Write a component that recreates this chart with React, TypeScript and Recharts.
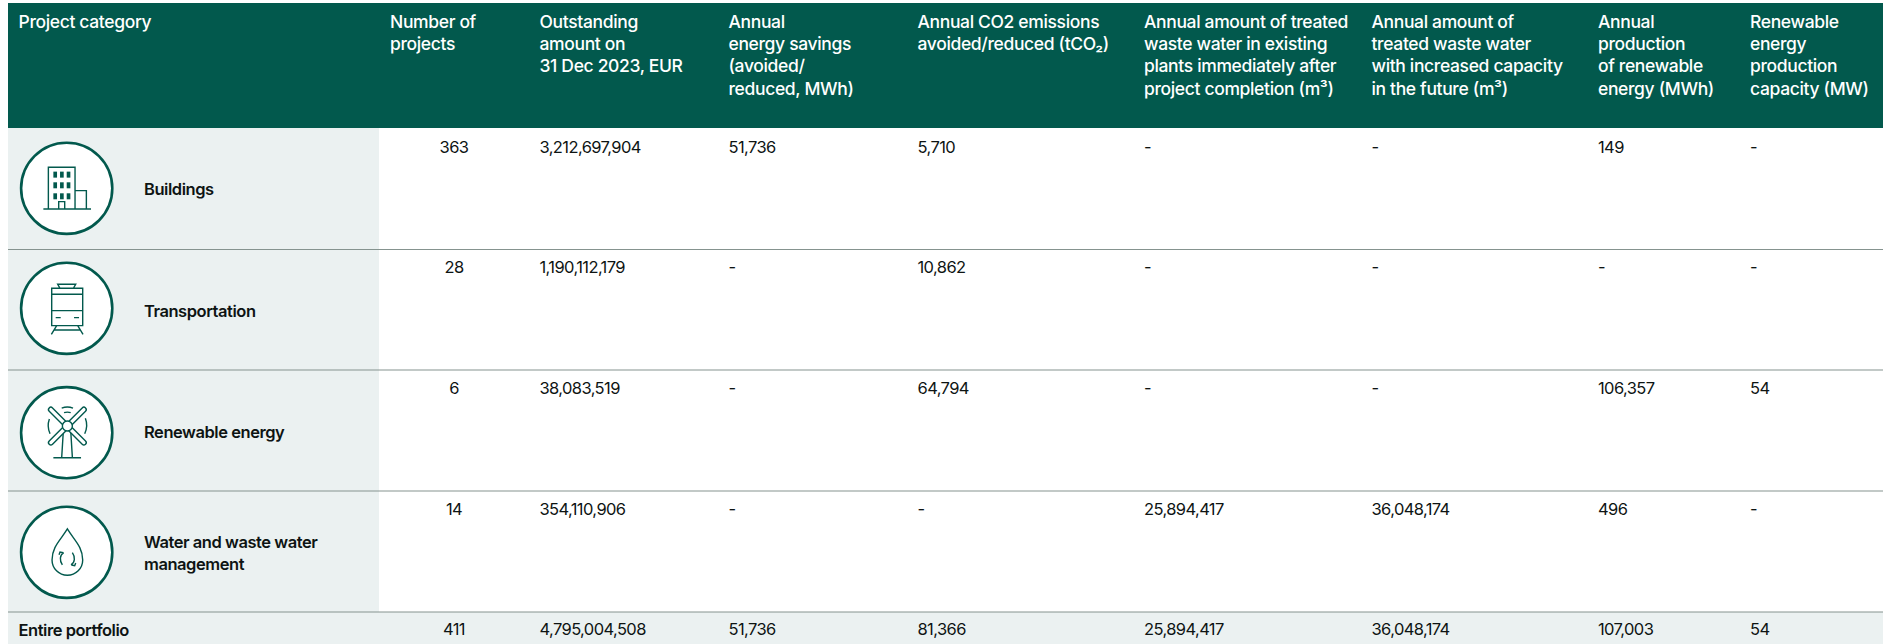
import { ScatterChart, Scatter, XAxis, YAxis, ReferenceArea, ReferenceLine } from "recharts";

const WIDTH = 1890;
const HEIGHT = 644;
const TABLE_LEFT = 8;
const TABLE_RIGHT = 1883;

const GREEN = "#02594D";
const PALE = "#EBF1F1";
const RULE = "#85938F";
const INK = "#0E1413";
const FONT = "Inter, sans-serif";

// table content
const columnHeaders = [
  ["Project category"],
  ["Number of", "projects"],
  ["Outstanding", "amount on", "31 Dec 2023, EUR"],
  ["Annual", "energy savings", "(avoided/", "reduced, MWh)"],
  ["Annual CO2 emissions", "avoided/reduced (tCO₂)"],
  ["Annual amount of treated", "waste water in existing", "plants immediately after", "project completion (m³)"],
  ["Annual amount of", "treated waste water", "with increased capacity", "in the future (m³)"],
  ["Annual", "production", "of renewable", "energy (MWh)"],
  ["Renewable", "energy", "production", "capacity (MW)"],
];

const categories = [
  ["Buildings"],
  ["Transportation"],
  ["Renewable energy"],
  ["Water and waste water", "management"],
  ["Entire portfolio"],
];

const projectCounts = [363, 28, 6, 14, 411];
const outstandingAmount = [3212697904, 1190112179, 38083519, 354110906, 4795004508];
const energySavings = [51736, null, null, null, 51736];
const co2Avoided = [5710, 10862, 64794, null, 81366];
const wasteWaterExisting = [null, null, null, 25894417, 25894417];
const wasteWaterFuture = [null, null, null, 36048174, 36048174];
const renewableProduction = [149, null, 106357, 496, 107003];
const renewableCapacity = [null, null, 54, null, 54];

const valueColumns = [
  projectCounts,
  outstandingAmount,
  energySavings,
  co2Avoided,
  wasteWaterExisting,
  wasteWaterFuture,
  renewableProduction,
  renewableCapacity,
];

const iconKinds = ["building", "train", "turbine", "drop"];

// layout, in page pixels
const columnX = [18.5, 390, 539.5, 728.5, 917.5, 1144, 1371.5, 1598, 1750];
const countColumnCentre = 454;
const headerBaselines = [28, 50, 72, 95];
const rowBaselines = [153, 273, 394, 515, 635];
const rowRules = [249.5, 370, 491, 612];
const labelBaselines = [[195], [317], [438], [548, 570], [635.5]];
const iconCentreX = 66.7;
const iconCentreY = [188.3, 308.3, 432.7, 552.3];

const format = (v: number | null) => (v === null ? "-" : v.toLocaleString("en-US"));

const headerCells = columnHeaders.flatMap((lines, c) =>
  lines.map((text, l) => ({ x: columnX[c], y: headerBaselines[l], text }))
);

const valueCells = valueColumns.flatMap((values, c) =>
  values.map((v, r) => ({
    x: c === 0 ? countColumnCentre : columnX[c + 1],
    y: rowBaselines[r],
    text: format(v),
    anchor: c === 0 ? "middle" : "start",
  }))
);

const labelCells = categories.flatMap((lines, r) =>
  lines.map((text, l) => ({
    x: r === 4 ? columnX[0] : 144,
    y: labelBaselines[r][l],
    text,
  }))
);

const iconCells = iconKinds.map((kind, r) => ({ x: iconCentreX, y: iconCentreY[r], kind }));

const HeaderText = ({ cx, cy, payload }: any) => (
  <text x={cx} y={cy} fill="#FFFFFF" fontFamily={FONT} fontSize={17.5} fontWeight={500} letterSpacing={-0.35}>
    {payload.text}
  </text>
);

const ValueText = ({ cx, cy, payload }: any) => (
  <text x={cx} y={cy} fill={INK} fontFamily={FONT} fontSize={16.5} letterSpacing={-0.6} textAnchor={payload.anchor}>
    {payload.text}
  </text>
);

const LabelText = ({ cx, cy, payload }: any) => (
  <text x={cx} y={cy} fill={INK} fontFamily={FONT} fontSize={16.5} fontWeight={600} letterSpacing={-0.45}>
    {payload.text}
  </text>
);

// glyphs are drawn at 3x around their own centre
const glyphs: Record<string, { ox: number; oy: number; body: any }> = {
  building: {
    ox: 170,
    oy: 205,
    body: (
      <>
        <path d="M115 267V142H195V267M195 212H229V267M146 267V245H164V267M100 267H243" />
        {[130, 150, 170].flatMap((wx) =>
          [155, 187, 220].map((wy) => (
            <rect key={`${wx}-${wy}`} x={wx} y={wy} width={11} height={18} fill={GREEN} stroke="none" />
          ))
        )}
      </>
    ),
  },
  train: {
    ox: 170,
    oy: 160,
    body: (
      <path d="M125 100H218V212H125ZM143 88H197L190 100H150ZM125 118H218M125 167H218M137 188H152M192 188H207M140 212L124 238M203 212L219 238M132 225H210" />
    ),
  },
  turbine: {
    ox: 170,
    oy: 173,
    body: (
      <>
        <path d="M160 166L155 247M182 166L187 247M130 248H213" />
        <path d="M118 132A58 58 0 0 0 120 176M226 130A58 58 0 0 1 224 176M155 99A50 50 0 0 1 189 99M162 113A30 30 0 0 1 182 113" />
        <rect x={95} y={146} width={154} height={14} rx={7} transform="rotate(45 172 153)" fill="#FFFFFF" />
        <rect x={95} y={146} width={154} height={14} rx={7} transform="rotate(-45 172 153)" fill="#FFFFFF" />
        <circle cx={172} cy={153} r={15} fill="#FFFFFF" />
      </>
    ),
  },
  drop: {
    ox: 170,
    oy: 157,
    body: (
      <>
        <path d="M172 87C152 120 126 140 126 180A46 46 0 0 0 218 180C218 140 192 120 172 87Z" />
        <path d="M161 158C149 165 148 182 157 195M147 164L150 156L160 158M183 195C195 188 196 171 187 158M197 189L194 197L184 195" />
      </>
    ),
  },
};

const Badge = ({ cx, cy, payload }: any) => {
  const glyph = glyphs[payload.kind];
  return (
    <g>
      <circle cx={cx} cy={cy} r={45.6} fill="#FFFFFF" stroke={GREEN} strokeWidth={2.6} />
      <g
        transform={`translate(${cx} ${cy}) scale(${1 / 3}) translate(${-glyph.ox} ${-glyph.oy})`}
        fill="none"
        stroke={GREEN}
        strokeWidth={4.2}
      >
        {glyph.body}
      </g>
    </g>
  );
};

export default function App() {
  return (
    <div style={{ position: "absolute", left: 0, top: 0, width: WIDTH, height: HEIGHT, background: "#FFFFFF" }}>
      <ScatterChart width={WIDTH} height={HEIGHT} margin={{ top: 0, right: 0, bottom: 0, left: 0 }}>
        <XAxis type="number" dataKey="x" domain={[0, WIDTH]} hide />
        <YAxis type="number" dataKey="y" domain={[0, HEIGHT]} reversed hide />

        <ReferenceArea x1={TABLE_LEFT} x2={TABLE_RIGHT} y1={3} y2={128} fill={GREEN} fillOpacity={1} stroke="none" />
        <ReferenceArea x1={TABLE_LEFT} x2={379} y1={128} y2={612} fill={PALE} fillOpacity={1} stroke="none" />
        <ReferenceArea x1={TABLE_LEFT} x2={TABLE_RIGHT} y1={612} y2={HEIGHT} fill={PALE} fillOpacity={1} stroke="none" />
        {rowRules.map((y) => (
          <ReferenceLine key={y} segment={[{ x: TABLE_LEFT, y }, { x: TABLE_RIGHT, y }]} stroke={RULE} strokeWidth={1} />
        ))}

        <Scatter data={iconCells} shape={Badge} isAnimationActive={false} />
        <Scatter data={headerCells} shape={HeaderText} isAnimationActive={false} />
        <Scatter data={valueCells} shape={ValueText} isAnimationActive={false} />
        <Scatter data={labelCells} shape={LabelText} isAnimationActive={false} />
      </ScatterChart>
    </div>
  );
}
